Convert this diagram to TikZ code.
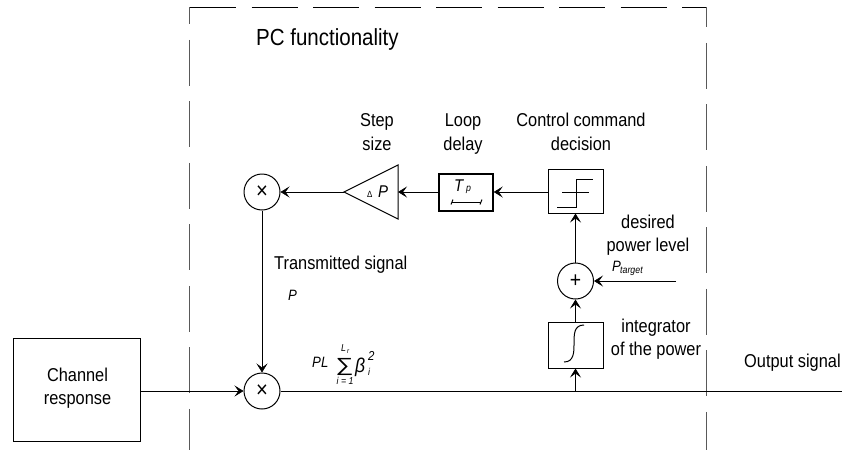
\documentclass[tikz,border=0pt]{standalone}
\usepackage{fontspec}
\setmainfont[FakeStretch=0.88]{Liberation Sans}
\usetikzlibrary{arrows.meta}
\newcommand\twolines[2]{\strut #1\\\strut #2}
\tikzset{
  lbl/.style={inner sep=0pt,align=center,font=\fontsize{18.6}{23.5}\selectfont},
  sym/.style={inner sep=0pt,anchor=base west,font=\fontsize{#1}{#1}\selectfont\itshape},
  blockbox/.style={draw=black,line width=1pt,fill=white,inner sep=0pt},
  joint/.style={circle,draw=black,line width=1pt,fill=white,minimum size=36pt,inner sep=0pt,font=\fontsize{#1}{#1}\selectfont},
  conn/.style={draw=black,line width=1pt,-{Stealth[length=9pt,width=11pt,inset=4pt,line width=0.6pt]}},
  wire/.style={draw=black,line width=1pt},
  frameline/.style={draw=black!65,line width=1pt}
}
\begin{document}
\begin{tikzpicture}[x=1pt,y=-1pt]
\useasboundingbox (0,0) rectangle (842,450);
% dashed frame
\draw[frameline,draw=black,dash pattern=on 46pt off 15.5pt] (190,7.3) -- (707,7.3);
\draw[frameline,dash pattern=on 46pt off 15.5pt,dash phase=29pt] (189.7,7.3) -- (189.7,450);
\draw[frameline,dash pattern=on 46pt off 15.5pt,dash phase=26pt] (706.7,7.3) -- (706.7,450);
% blocks
\node[blockbox,minimum width=127pt,minimum height=103pt] (chan) at (76.5,389.5) {};
\node[lbl] (chanlbl) at (77.5,388.2) {\twolines{Channel}{response}};
\node[joint=23] (mulb) at (262,391) {×};
\node[joint=23] (mult) at (262,192) {×};
\node[joint=22] (sum) at (575.5,281) {+};
\node[blockbox,minimum width=55pt,minimum height=46pt] (integ) at (575.5,345) {};
\node[blockbox,minimum width=55pt,minimum height=44pt] (relay) at (575.5,191) {};
\node[blockbox,line width=1.5pt,minimum width=54pt,minimum height=37pt] (delay) at (466,192.5) {};
% triangle amplifier
\coordinate (tritip) at (344,192);
\coordinate (tritop) at (398,165);
\coordinate (tribot) at (398,219);
\coordinate (triin) at (398,192);
\draw[wire] (tritip) -- (tritop) -- (tribot) -- cycle;
% free ends
\coordinate (outend) at (842,391);
\coordinate (targetin) at (676,281);
\coordinate (tap) at (575.5,391);
% connectors
\draw[conn] (chan.east |- mulb) -- (mulb);
\draw[wire] (mulb) -- (outend);
\draw[conn] (mult) -- (mulb);
\draw[conn] (tritip) -- (mult);
\draw[conn] (delay.west |- triin) -- (triin);
\draw[conn] (relay.west |- triin) -- (delay.east |- triin);
\draw[conn] (sum) -- (relay.south);
\draw[conn] (integ.north) -- (sum);
\draw[conn] (tap) -- (integ.south);
\draw[conn] (targetin) -- (sum);
% relay symbol
\draw[wire] (562,192) -- (589,192);
\draw[wire] (557,207) -- (576,207) -- (576,179) -- (593,179);
% integrator symbol
\draw[wire] (564,362) .. controls (574,362) and (574,352) .. (574,344) .. controls (574,334) and (574,325) .. (584,325);
% delay symbol
\draw[wire] (452,202) -- (481,202);
\draw[wire] (451,204.5) -- (453,199.5);
\draw[wire] (480,204.5) -- (482,199.5);
\node[sym=17] (tT) at (454,191) {T};
\node[sym=10] (tp) at (466,191) {p};
% labels
\node[inner sep=0pt,anchor=base west,font=\fontsize{23.3}{24}\selectfont] (pc) at (256,45.5) {PC functionality};
\node[lbl] (stepl) at (377,133.7) {\twolines{Step}{size}};
\node[lbl] (loopl) at (463,133.7) {\twolines{Loop}{delay}};
\node[lbl] (ctrl) at (581,133.7) {\twolines{Control command}{decision}};
\node[lbl] (desl) at (648,235.2) {\twolines{desired}{power level}};
\node[lbl] (intl) at (656,339.2) {\twolines{integrator}{of the power}};
\node[lbl,anchor=base west] (txl) at (274,269.5) {Transmitted signal};
\node[lbl,anchor=base west] (outl) at (744,367.5) {Output signal};
\node[sym=9] (dl) at (367,197) {\normalfont Δ};
\node[sym=17] (dp) at (378,197) {P};
\node[sym=15] (ptg) at (612,271) {P};
\node[sym=10] (ptgs) at (620,273) {target};
\node[sym=15] (pp) at (288,300) {P};
\node[sym=15] (pl) at (312,367) {PL};
\node[inner sep=0pt,anchor=base,font=\fontsize{19}{19}\selectfont] (sg) at (344.5,371) {\scalebox{1.5}[1]{∑}};
\node[sym=10] (sl) at (341,351) {L};
\node[sym=7] (sr) at (347,353) {r};
\node[sym=10] (si) at (336.5,384) {i = 1};
\node[sym=20] (bt) at (355,372) {β};
\node[sym=13] (bs) at (368,360) {2};
\node[sym=10] (bi) at (368,375) {i};
\end{tikzpicture}
\end{document}
